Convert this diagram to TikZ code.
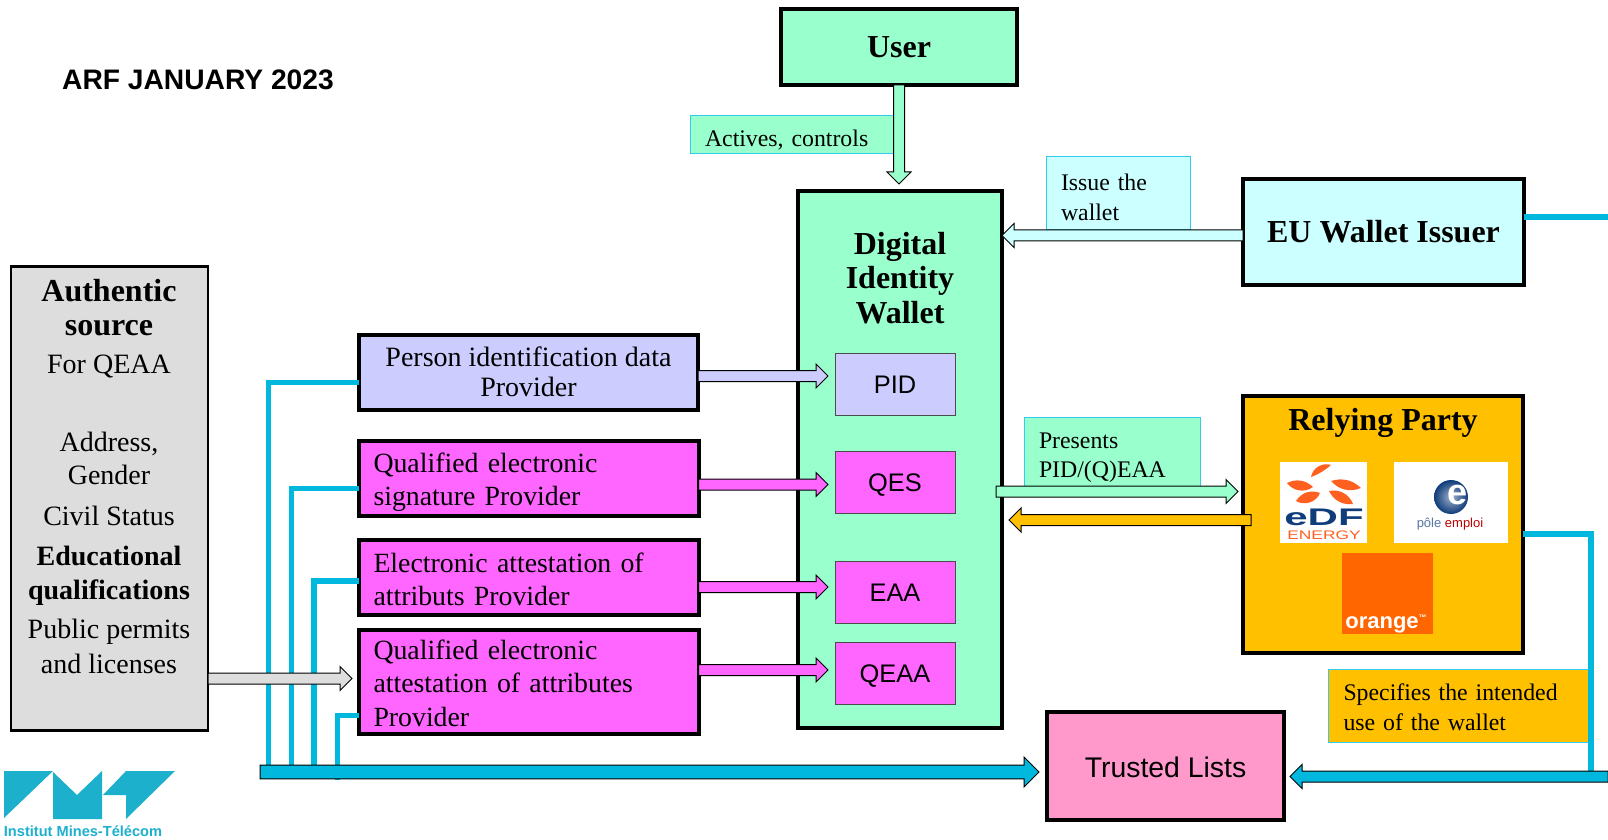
\documentclass[tikz,border=0pt]{standalone}
\usepackage{fontspec}
\setmainfont{Liberation Serif}
\setsansfont{Liberation Sans}
\newfontfamily\provfont[WordSpace=0.7]{Liberation Serif}
\usepackage{tikz}
\usetikzlibrary{calc}
\usetikzlibrary{positioning}

\definecolor{walletgreen}{HTML}{99FFCC}
\definecolor{issuercyan}{HTML}{CCFFFF}
\definecolor{partyorange}{HTML}{FFC000}
\definecolor{personblue}{HTML}{CCCCFF}
\definecolor{providerpink}{HTML}{FF66FF}
\definecolor{sourcegray}{HTML}{DDDDDD}
\definecolor{trustedpink}{HTML}{FF99CC}
\definecolor{linkblue}{HTML}{00B8DE}
\definecolor{labelline}{HTML}{33CCEE}
\definecolor{edforange}{HTML}{FF5F1F}
\definecolor{edfblue}{HTML}{0F3C7A}
\definecolor{logoorange}{HTML}{FF6600}
\definecolor{imtblue}{HTML}{1CB0CC}

\tikzset{
  boxsize/.style 2 args={minimum width=#1*0.5pt,minimum height=#2*0.5pt},
  heavybox/.style={draw,line width=2pt,inner sep=0pt,outer sep=0pt,align=center},
  smallbox/.style={draw=black!70,line width=0.5pt,inner sep=0pt,outer sep=0pt,
    text height=9.1pt,text depth=0pt,font=\sffamily\fontsize{12.7}{15}\selectfont},
  labelbox/.style={draw=labelline,line width=0.5pt,inner sep=0pt,outer sep=0pt,
    align=left,font=\fontsize{11.9}{14.6}\selectfont},
  provtext/.style={text width=155pt,inner xsep=7.5pt,align=left,
    font=\provfont\fontsize{13.9}{16.6}\selectfont},
  title/.style={font=\bfseries\fontsize{16}{17.2}\selectfont},
  arrowline/.style={draw=black,line width=0.5pt,line join=miter},
  bluelink/.style={draw=linkblue,line width=2.5pt},
  sidelink/.style={draw=linkblue,line width=2.9pt},
  petal/.style={fill=edforange},
}
\newcommand{\srchead}{\bfseries\fontsize{16}{17}\selectfont}
% tall first line, pushes the text of a box down
\newcommand{\tallline}[1]{\rule{0pt}{#1}}

% from, to and fill of a hollow arrow; the option scales its width
\newcommand{\blockarrow}[4][1]{
  \coordinate (hd) at ($(#3)!{#1*6pt}!(#2)$);
  \path [arrowline,fill=#4]
    ($(#2)!{#1*2.75pt}!90:(#3)$) -- ($(hd)!{#1*2.75pt}!90:(#3)$) --
    ($(hd)!{#1*6pt}!90:(#3)$) -- (#3) --
    ($(hd)!{#1*6pt}!-90:(#3)$) -- ($(hd)!{#1*2.75pt}!-90:(#3)$) --
    ($(#2)!{#1*2.75pt}!-90:(#3)$) -- cycle;
}

\begin{document}
\begin{tikzpicture}[x=0.5pt,y=-0.5pt]

  \useasboundingbox [fill=white] (0,0) rectangle (1608,840);

  \node [font=\sffamily\bfseries\fontsize{14.1}{16}\selectfont] (arf) at (198,80) {ARF JANUARY 2023};

  % labels behind the arrows
  \node [labelbox,fill=walletgreen,boxsize={202}{38},text width=87pt,inner xsep=7.5pt] (Lactives) at (792,134.5) {\tallline{14.3pt}Actives, controls};
  \node [labelbox,fill=issuercyan,boxsize={144}{73},text width=57pt,inner xsep=7.5pt] (Lissue) at (1118,193.5) {\tallline{12.2pt}Issue the\\wallet};
  \node [labelbox,fill=walletgreen,boxsize={176}{69},text width=73pt,inner xsep=7.5pt] (Lpresents) at (1112,451.5) {\tallline{13.7pt}Presents\\PID/(Q)EAA};
  \node [labelbox,fill=partyorange,boxsize={259}{73},text width=115pt,inner xsep=7.5pt] (Lspecifies) at (1458.5,705.5) {\tallline{10.1pt}Specifies the intended\\use of the wallet};

  % blue links towards the trusted lists
  \coordinate (bus_start) at (260,772);
  \coordinate (bus_a) at (268,772);
  \coordinate (bus_b) at (291,772);
  \coordinate (bus_c) at (314,772);
  \coordinate (bus_d) at (337,780);
  \coordinate (back_end) at (1608,776.5);
  \coordinate (back_tip) at (1290,776.5);
  \coordinate (back_join) at (1591,776.5);
  \coordinate (issuer_out) at (1608,217);

  \node [heavybox,fill=trustedpink,boxsize={237}{108},font=\sffamily\fontsize{14.2}{17}\selectfont] (Ttrusted) at (1165.5,766) {\rule{0pt}{12pt}Trusted Lists};
  \coordinate (bus_tip) at ($(Ttrusted.west)+(-8,6)$);

  % main boxes
  \node [heavybox,fill=walletgreen,boxsize={236}{76},title] (Uuser) at (899,47) {User};
  \node [heavybox,fill=walletgreen,boxsize={204}{537}] (Wwallet) at (900,459.5) {};
  \node [title,align=center,below=43.5pt of Wwallet.north,anchor=center] (Wtitle) {Digital\\Identity\\Wallet};
  \node [heavybox,fill=issuercyan,boxsize={281}{106},title] (Iissuer) at (1383.5,232) {EU Wallet Issuer};
  \node [heavybox,fill=partyorange,boxsize={280}{257}] (Rparty) at (1383,524) {};
  \node [title,below=13.5pt of Rparty.north,anchor=center] (Rtitle) {Relying Party};

  \node [heavybox,line width=1.2pt,fill=sourcegray,boxsize={197}{464}] (Ssource) at (109.5,498.5) {};
  \node [align=center,font=\fontsize{14}{16.5}\selectfont,anchor=north] (Stext) at (109,272) {%
    \srchead Authentic\\[0.5pt] \srchead source\\[2.5pt]
    For QEAA\\[22.5pt]
    Address,\\[0pt] Gender\\[4pt]
    Civil Status\\[3.5pt]
    \bfseries Educational\\[0.5pt] \bfseries qualifications\\[3pt]
    Public permits\\[1pt] and licenses};

  % providers
  \node [heavybox,fill=personblue,boxsize={339}{75},font=\fontsize{14}{15}\selectfont] (Pperson) at (528.5,372.5) {Person identification data\\Provider\rule[-1pt]{0pt}{0pt}};
  \node [heavybox,fill=providerpink,boxsize={339}{75},provtext] (Pqes) at (528.5,478.5) {\tallline{13.5pt}Qualified electronic\\signature Provider};
  \node [heavybox,fill=providerpink,boxsize={339}{75},provtext] (Peaa) at (528.5,577.5) {\tallline{11.5pt}Electronic attestation of\\attributs Provider};
  \node [heavybox,fill=providerpink,boxsize={339}{104},provtext] (Pqeaa) at (528.5,682) {\tallline{11pt}Qualified electronic\\attestation of attributes\\Provider};

  % credentials in the wallet
  \node [smallbox,fill=personblue,boxsize={120}{62}] (Bpid) at (895,384) {PID};
  \node [smallbox,fill=providerpink,boxsize={120}{62}] (Bqes) at (895,482) {QES};
  \node [smallbox,fill=providerpink,boxsize={120}{62}] (Beaa) at (895,592) {EAA};
  \node [smallbox,fill=providerpink,boxsize={120}{62}] (Bqeaa) at (895,673) {QEAA};

  \draw [bluelink] ($(Pperson.west)+(0,10)$) -| (bus_a);
  \draw [bluelink] ($(Pqes.west)+(0,10)$) -| (bus_b);
  \draw [bluelink,line width=3pt] ($(Peaa.west)+(0,3)$) -| (bus_c);
  \draw [bluelink] ($(Pqeaa.west)+(0,33)$) -| (bus_d);
  \draw [sidelink] (Iissuer.east |- issuer_out) -- (issuer_out);
  \draw [sidelink] ($(Rparty.east)+(0,10)$) -| (back_join);

  \blockarrow[1.25]{bus_start}{bus_tip}{linkblue}
  \blockarrow{back_end}{back_tip}{linkblue}

  % hollow arrows
  \coordinate (user_tip) at (899,184);
  \coordinate (issue_tip) at (1002,235.5);
  \coordinate (pid_tip) at (828,376);
  \coordinate (qes_tip) at (828,484.5);
  \coordinate (eaa_tip) at (828,587);
  \coordinate (qeaa_tip) at (828,670);
  \coordinate (source_tip) at (352,678.5);
  \coordinate (present_from) at (996,491.5);
  \coordinate (present_tip) at (1238,491.5);
  \coordinate (party_tip) at (1009,520);

  \blockarrow{Uuser.south -| user_tip}{user_tip}{walletgreen}
  \blockarrow{Iissuer.west |- issue_tip}{issue_tip}{issuercyan}
  \blockarrow{Pperson.east |- pid_tip}{pid_tip}{personblue}
  \blockarrow{Pqes.east |- qes_tip}{qes_tip}{providerpink}
  \blockarrow{Peaa.east |- eaa_tip}{eaa_tip}{providerpink}
  \blockarrow{Pqeaa.east |- qeaa_tip}{qeaa_tip}{providerpink}
  \blockarrow{Ssource.east |- source_tip}{source_tip}{sourcegray}
  \blockarrow{present_from}{present_tip}{walletgreen}
  \coordinate (party_from) at ($(Rparty.west |- party_tip)+(8,0)$);
  \blockarrow{party_from}{party_tip}{partyorange}

  % logos of the relying parties
  \node [fill=white,inner sep=0pt,boxsize={87}{81}] (Ledf) at (1323.5,502.5) {};
  \path [petal] (1311,477) to[bend left=50] (1331,465) to[bend left=10] (1311,477);
  \path [petal] (1287,483) to[bend right=45] (1313,487) to[bend right=35] (1287,483);
  \path [petal] (1331,481) to[bend left=30] (1361,488) to[bend left=35] (1331,481);
  \path [petal] (1296,501) to[bend right=50] (1320,493) to[bend right=40] (1296,501);
  \path [petal] (1329,491) to[bend left=40] (1353,504) to[bend left=35] (1329,491);
  \node [font=\sffamily\bfseries\fontsize{12}{12}\selectfont,text=edfblue,xscale=1.75,inner sep=0pt] (Ledftext) at (1324,517.5) {eDF};
  \node [font=\sffamily\fontsize{6.2}{6.2}\selectfont,text=edforange,xscale=1.4,inner sep=0pt] (Lenergy) at (1324,535) {ENERGY};

  \node [fill=white,inner sep=0pt,boxsize={114}{81}] (Lpole) at (1451,502.5) {};
  \shade [inner color=edfblue!40,outer color=edfblue] (1451,497) circle (8.5pt);
  \node [font=\sffamily\bfseries\fontsize{18}{18}\selectfont,text=white,inner sep=0pt] (Lpolee) at (1457,495) {e};
  \node [font=\sffamily\fontsize{6.5}{7}\selectfont,inner sep=0pt] (Lpoletext) at (1450,524) {\textcolor{edfblue!70}{pôle} \textcolor{red!75!black}{emploi}};

  \node [fill=logoorange,inner sep=0pt,boxsize={91}{81}] (Lorange) at (1387.5,593.5) {};
  \node [font=\sffamily\bfseries\fontsize{11}{12}\selectfont,text=white,inner sep=0pt] (Lorangetext) at (1386,624) {orange\raisebox{4pt}{\fontsize{4}{4}\selectfont ™}};

  % institute logo
  \path [fill=imtblue] (4,771) -- (53,771) -- (4,818) -- cycle;
  \path [fill=imtblue] (53,772) -- (77,795) -- (102,771) -- (102,819) -- (53,819) -- cycle;
  \path [fill=imtblue] (126,771) -- (175,771) -- (126,819) -- (126,795) -- (103,795) -- cycle;
  \node [font=\sffamily\bfseries\fontsize{7.3}{8}\selectfont,text=imtblue,inner sep=0pt] (Limt) at (83,831) {Institut Mines-Télécom};

\end{tikzpicture}
\end{document}
